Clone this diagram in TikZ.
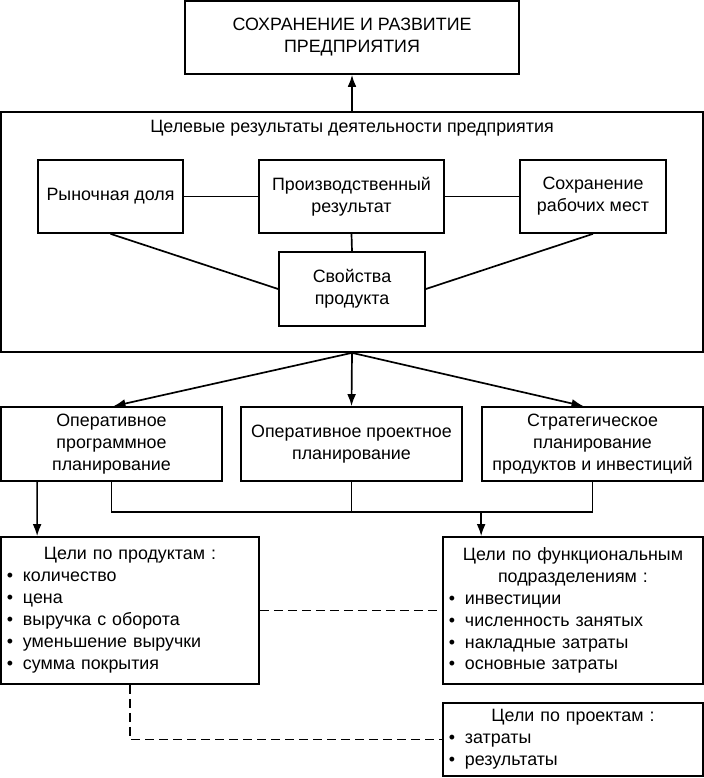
\documentclass[tikz,border=0pt]{standalone}
\usepackage{fontspec}
\setmainfont{Liberation Sans}
\usetikzlibrary{arrows.meta,calc}
\newcommand\pxu{0.025cm}
\newcommand\itm{\makebox[0.4cm][l]{\textbullet}}
\newcommand\hdr[1]{\hspace*{\fill}#1\hspace*{\fill}\mbox{}}

\begin{document}
\begin{tikzpicture}[x=0.025cm, y=-0.025cm, line width=1.2pt,
    every node/.style={font=\fontsize{12.7}{15.6}\selectfont},
    blk/.style 2 args={draw, align=center, inner sep=0pt, minimum width=#1*\pxu, minimum height=#2*\pxu},
    lst/.style={draw, align=left, inner xsep=0.15cm, inner ysep=0pt},
    arr/.style={-{Latex[length=0.3cm, width=0.22cm]}},
    dsh/.style={dash pattern=on 0.225cm off 0.125cm}]
  \useasboundingbox (0,0) rectangle (704,778);
  % top goal
  \node[blk={334}{73}] (top) at (352,37.5) {СОХРАНЕНИЕ И РАЗВИТИЕ\\ПРЕДПРИЯТИЯ};
  % target results of the enterprise
  \node[blk={702}{240}] (goals) at (352,232) {};
  \node (goalstitle) at (352,128) {Целевые результаты деятельности предприятия};
  \node[blk={145}{73}] (share) at (110.5,196.5) {Рыночная доля};
  \node[blk={185}{73}] (prodres) at (351.5,196.5) {Производственный\\результат};
  \node[blk={146}{73}] (jobs) at (593,196.5) {Сохранение\\рабочих мест};
  \node[blk={146}{74}] (props) at (352,289) {Свойства\\продукта};
  \draw (share.east) -- (prodres.west);
  \draw (prodres.east) -- (jobs.west);
  \draw (prodres.south) -- (props.north);
  \draw (share.south) -- (props.west);
  \draw (jobs.south) -- (props.east);
  \draw[arr] (goals.north) -- (top.south);
  % planning levels
  \node[blk={221}{74}] (opp) at (111.5,444) {Оперативное\\программное\\планирование};
  \node[blk={221}{74}] (opr) at (351.5,444) {Оперативное проектное\\планирование};
  \node[blk={221}{74}] (spi) at (592.5,444) {Стратегическое\\планирование\\продуктов и инвестиций};
  \draw[arr] (goals.south) -- ($(opp.north)+(2,0)$);
  \draw[arr] (goals.south) -- (opr.north);
  \draw[arr] (goals.south) -- ($(spi.north)+(-9,0)$);
  % goal lists
  \node[lst, text width=6.15cm, minimum height=147*\pxu] (prodgoals) at (130,610.5)
    {\hdr{Цели по продуктам :}\\
     \itm количество\\
     \itm цена\\
     \itm выручка с оборота\\
     \itm уменьшение выручки\\
     \itm сумма покрытия};
  \node[lst, text width=6.2cm, minimum height=147*\pxu] (unitgoals) at (573,610.5)
    {\hdr{Цели по функциональным}\\
     \hdr{подразделениям :}\\
     \itm инвестиции\\
     \itm численность занятых\\
     \itm накладные затраты\\
     \itm основные затраты};
  \node[lst, text width=6.2cm, minimum height=73*\pxu] (projgoals) at (573,739.5)
    {\hdr{Цели по проектам :}\\
     \itm затраты\\
     \itm результаты};
  \coordinate (bus) at (351.5,512);
  \draw (opp.south) |- (bus) -| (spi.south);
  \draw (opr.south) -- (bus);
  \draw[arr] ($(opp.south west)+(37,0)$) -- ($(prodgoals.north west)+(37,0)$);
  \draw[arr] (bus -| spi.south west) -- (unitgoals.north -| spi.south west);
  \draw[dsh] (prodgoals.east) -- (unitgoals.west);
  \draw[dsh] (prodgoals.south) |- (projgoals.west);
\end{tikzpicture}
\end{document}
